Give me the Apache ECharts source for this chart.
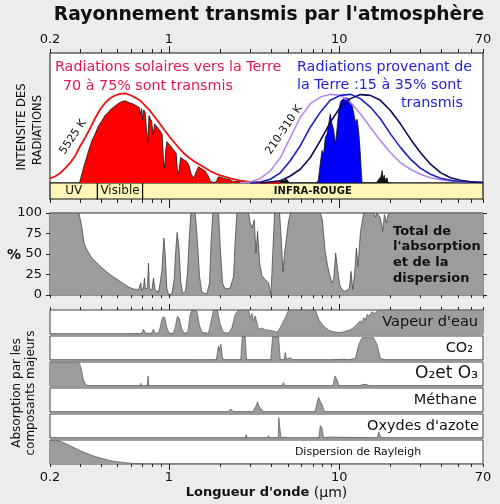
<!DOCTYPE html>
<html>
<head>
<meta charset="utf-8">
<script src="https://cdn.jsdelivr.net/npm/echarts@6/dist/echarts.min.js"></script>
<style>
html, body { margin: 0; padding: 0; background: #ececec; }
#chart { width: 500px; height: 504px; }
</style>
</head>
<body>
<div id="chart"></div>
<script>
// longueur d'onde (µm), valeur
var tickValues = [0.2,0.3,0.4,0.5,0.6,0.7,0.8,0.9,1,2,3,4,5,6,7,8,9,10,20,30,40,50,60,70];
var majorTicks = [1, 10];
var tickLabels = [0.2, 1, 10, 70];

var bandNames = ['UV', 'Visible', 'INFRA-ROUGE'];
var bandEdges = [0.2, 0.38, 0.7, 70];

/* spectre solaire 5525 K */
var solarCurve = [[0.200,3.6],[0.214,5.0],[0.229,7.5],[0.245,11.2],[0.262,15.2],[0.281,20.8],[0.300,28.1],[0.321,34.6],[0.344,41.9],[0.368,49.8],[0.394,56.5],[0.421,61.5],[0.451,65.2],[0.482,67.3],[0.516,68.5],[0.552,69.0],[0.591,67.7],[0.632,65.8],[0.677,63.5],[0.724,59.6],[0.775,55.4],[0.829,50.4],[0.887,45.4],[0.950,40.0],[1.016,35.0],[1.087,30.4],[1.164,25.8],[1.245,21.9],[1.332,18.8],[1.426,16.2],[1.525,13.8],[1.632,11.5],[1.747,9.2],[1.869,7.3],[2.000,5.8],[2.290,3.5],[2.620,1.9],[3.000,0.9],[3.44,0.4],[4.51,0]];
/* part transmise */
var solarFill = [[0.298,0],[0.300,0.4],[0.314,11.2],[0.321,15.4],[0.336,24.2],[0.352,32.3],[0.368,37.7],[0.385,43.8],[0.403,47.7],[0.421,51.9],[0.441,54.6],[0.461,57.3],[0.482,59.2],[0.504,61.2],[0.528,62.5],[0.552,63.2],[0.591,61.5],[0.615,60.8],[0.647,59.2],[0.668,58.1],[0.681,53.1],[0.691,57.3],[0.700,48.5],[0.710,56.2],[0.724,54.6],[0.736,43.1],[0.751,30.8],[0.763,51.9],[0.775,49.8],[0.791,47.7],[0.807,36.9],[0.824,45.4],[0.849,43.3],[0.887,40],[0.912,37.7],[0.928,17.7],[0.943,11.3],[0.958,25.4],[0.972,31.8],[1.016,28.8],[1.063,25.4],[1.102,23.1],[1.125,6.2],[1.148,10],[1.171,19.6],[1.191,19.0],[1.274,16.4],[1.314,13.1],[1.350,6.9],[1.397,3.8],[1.445,8.5],[1.491,12.5],[1.632,9.2],[1.701,5.4],[1.747,1.5],[1.819,0.4],[1.895,0.8],[1.954,4.8],[2.112,3.5],[2.290,2.3],[2.386,1.2],[2.451,1.9],[2.620,1.0],[3.000,0.4],[3.44,0]];

/* rayonnement terrestre 210 - 310 K */
var earth310 = [[2.62,0],[3.00,0.8],[3.44,3.5],[3.94,9.3],[4.51,19.4],[5.16,34.9],[5.91,50.4],[6.77,61.0],[7.75,66.1],[8.87,68.2],[10.16,67.4],[11.64,62.2],[13.32,53.3],[15.25,42.9],[17.47,32.6],[20.0,23.5],[22.9,15.7],[26.2,10.6],[30.0,6.7],[34.4,4.1],[39.4,2.6],[45.1,1.6],[51.6,0.8],[70,0.2]];
var earth260 = [[3.00,0],[3.44,0.8],[3.94,2.9],[4.51,7.8],[5.16,17.1],[5.91,28.7],[6.77,42.9],[7.75,54.5],[8.87,63.6],[10.16,67.4],[11.64,68.2],[13.32,64.9],[15.25,58.4],[17.47,49.4],[20.0,37.8],[22.9,27.4],[26.2,18.4],[30.0,11.4],[34.4,6.7],[39.4,3.6],[45.1,2.1],[51.6,1.0],[70,0.4]];
var earth210 = [[3.44,0],[4.51,1.6],[5.16,5.4],[5.91,10.6],[6.77,19.6],[7.75,32.6],[8.87,46.7],[10.16,58.4],[11.64,64.9],[13.32,68.0],[15.25,67.4],[17.47,63.6],[20.0,55.8],[22.9,45.5],[26.2,33.9],[30.0,23.5],[34.4,14.5],[39.4,8.0],[45.1,4.1],[51.6,2.1],[59.1,1.0],[70,0.4]];
var earthFill = [[7.34,0],[7.54,2],[7.75,15],[7.93,25],[8.10,22],[8.29,35],[8.50,38],[8.67,45],[8.87,53],[9.06,46],[9.28,41],[9.50,30],[9.69,40],[9.93,55],[10.16,62],[10.40,64],[10.63,65],[10.87,65.5],[11.13,66],[11.32,65],[11.64,62],[11.91,60],[12.17,54],[12.45,47],[12.74,49],[13.02,40],[13.14,33],[13.32,22],[13.50,8],[13.63,0]];
var earthSpikes = [[3.0,0],[4.4,0],[4.55,2.5],[4.7,1.5],[4.9,3],[5.1,0],[16.5,0],[16.9,2],[17.3,1],[17.6,5],[17.9,9.5],[18.1,3],[18.4,6],[18.7,2],[19.1,4],[19.4,0],[20,0]];

/* total de l'absorption et de la dispersion (%) */
var absorbTotal = [[0.2,100],[0.296,100],[0.307,83.7],[0.317,63.4],[0.329,55.3],[0.352,45.1],[0.394,35.0],[0.451,24.8],[0.516,16.7],[0.578,9.8],[0.618,7.3],[0.662,6.5],[0.674,5.7],[0.683,14.6],[0.692,5.7],[0.708,8.5],[0.718,20.7],[0.728,7.3],[0.748,8.5],[0.758,39.0],[0.768,7.3],[0.793,5.7],[0.811,20.7],[0.829,6.5],[0.868,3.3],[0.887,14.6],[0.908,28.9],[0.933,69.5],[0.950,51.2],[0.971,8.5],[0.994,0.4],[1.039,1.2],[1.073,18.7],[1.097,55.3],[1.117,76.4],[1.143,59.3],[1.174,14.6],[1.206,1.6],[1.251,4.5],[1.285,26.8],[1.314,67.5],[1.344,100],[1.426,100],[1.458,75.6],[1.512,22.8],[1.560,3.3],[1.670,1.2],[1.731,14.6],[1.771,67.5],[1.811,100],[1.955,100],[2.0,59.3],[2.064,14.6],[2.140,7.3],[2.290,8.5],[2.396,22.8],[2.451,67.5],[2.507,100],[2.936,100],[3.003,87.8],[3.085,81.7],[3.170,91.9],[3.243,51.2],[3.317,77.6],[3.408,39.0],[3.518,23.6],[3.680,18.7],[3.850,14.6],[3.973,0.4],[4.081,55.3],[4.174,100],[4.467,100],[4.569,67.5],[4.674,28.9],[4.781,51.2],[4.891,67.5],[5.024,87.8],[5.162,100],[7.750,100],[7.962,91.9],[8.256,55.3],[8.559,35.0],[8.794,24.8],[9.078,14.6],[9.283,18.7],[9.538,51.2],[9.798,30.9],[10.07,12.6],[10.39,6.5],[10.73,4.5],[11.12,5.7],[11.48,8.5],[11.74,28.9],[12.01,6.5],[12.34,26.8],[12.62,57.3],[12.91,35.0],[13.32,75.6],[13.93,100],[15.96,100],[16.32,95.1],[16.70,100],[17.47,93.9],[18.03,77.6],[18.44,98],[18.95,87.8],[19.38,98],[20.0,100],[70,100]];

/* absorption par composant (%) */
var vapeurEau = [[0.2,0],[0.578,0],[0.62,1],[0.69,2],[0.708,20],[0.73,3],[0.79,3],[0.810,20],[0.83,3],[0.87,5],[0.887,27],[0.915,68],[0.941,71],[0.972,27],[1.002,3],[1.06,3],[1.087,27],[1.122,75],[1.153,62],[1.191,20],[1.233,3],[1.291,8],[1.332,82],[1.363,99],[1.459,96],[1.505,41],[1.561,7],[1.707,3],[1.771,55],[1.827,100],[1.928,100],[2.0,41],[2.091,7],[2.238,3],[2.344,27],[2.451,82],[2.563,100],[2.934,100],[3.003,68],[3.074,85],[3.141,55],[3.214,75],[3.361,20],[3.519,25],[3.680,18],[3.766,16],[4.031,14],[4.313,7],[4.51,27],[4.823,68],[5.044,100],[7.243,100],[7.574,62],[7.929,41],[8.292,27],[8.671,16],[9.081,11],[9.716,7],[10.40,7],[11.13,14],[11.64,18],[11.9,12],[12.17,27],[12.45,20],[12.74,41],[13.0,33],[13.32,55],[13.6,45],[13.93,68],[14.25,58],[14.59,82],[15.0,75],[15.61,93],[16.2,86],[17.07,100],[30,100],[70,100]];
var co2 = [[0.2,0],[1.40,0],[1.426,4],[1.45,0],[1.55,0],[1.561,3],[1.58,0],[1.90,0],[1.913,18],[1.954,59],[1.981,40],[2.019,66],[2.063,11],[2.09,0],[2.64,0],[2.694,97],[2.806,97],[2.856,0],[3.96,0],[4.062,97],[4.406,97],[4.51,0],[4.75,0],[4.823,31],[4.91,3],[5.16,10],[5.3,0],[9.1,0],[9.28,7],[9.5,2],[10.87,4],[11.2,0],[12.45,7],[13.02,64],[13.63,93],[15.95,93],[16.71,64],[17.47,7],[18.69,0],[70,0]];
var o2o3 = [[0.2,100],[0.293,100],[0.300,89],[0.307,62],[0.314,27],[0.324,7],[0.336,0],[0.675,0],[0.683,11],[0.69,0],[0.745,0],[0.754,41],[0.762,0],[1.24,0],[1.257,7],[1.275,0],[4.6,0],[4.71,14],[4.82,0],[9.2,0],[9.3,8],[9.45,42],[9.6,45],[9.8,20],[9.95,0],[13.2,0],[13.63,6],[14.4,7],[15.2,0],[70,0]];
var methane = [[0.2,0],[2.2,0],[2.238,6],[2.312,12],[2.395,0],[3.10,0],[3.141,5],[3.244,24],[3.316,42],[3.393,22],[3.596,0],[7.2,0],[7.243,5],[7.41,37],[7.574,61],[7.75,44],[7.929,31],[8.21,0],[70,0]];
var oxydesAzote = [[0.2,0],[2.80,0],[2.845,14],[2.89,0],[3.80,0],[3.85,10],[3.90,0],[4.38,0],[4.42,85],[4.50,83],[4.55,0],[4.823,4],[5.0,0],[7.6,0],[7.75,52],[7.929,41],[8.10,0],[8.671,4],[8.9,0],[16.8,0],[17.07,25],[17.4,10],[17.7,0],[70,0]];
var rayleigh = [[0.2,97],[0.214,100],[0.234,93],[0.268,73],[0.307,53],[0.352,36],[0.403,23],[0.461,13],[0.528,7],[0.605,3],[0.724,0.5],[1.0,0],[70,0]];

var panelData = [vapeurEau, co2, o2o3, methane, oxydesAzote, rayleigh];
var panelNames = ["Vapeur d'eau", 'CO\u2082', 'O\u2082et O\u2083', 'M\u00e9thane', "Oxydes d'azote", 'Dispersion de Rayleigh'];

var FONT = 'DejaVu Sans';
var chart = echarts.init(document.getElementById('chart'));

function fmt(v) { return String(+(+v).toPrecision(3)); }

function xAxisFor(grid, pos, ticks, len, labels) {
	var ax = {
		type: 'log', logBase: 10, min: 0.2, max: 70,
		gridIndex: grid, position: pos,
		axisLine: { show: false, onZero: false },
		splitLine: { show: false },
		axisTick: { show: false },
		axisLabel: { show: false }
	};
	if (ticks) ax.axisTick = { show: true, customValues: ticks, length: len, lineStyle: { color: '#222', width: 1 } };
	if (labels) ax.axisLabel = { show: true, customValues: labels, formatter: fmt, color: '#111', fontSize: 13, fontFamily: FONT, margin: 7 };
	return ax;
}
function hiddenY(grid, max) {
	return { type: 'value', gridIndex: grid, min: 0, max: max, show: false };
}

var grids = [
	{ left: 50, top: 53, width: 433, height: 130, show: true, backgroundColor: '#fff', borderColor: '#111', borderWidth: 1 },
	{ left: 50, top: 183, width: 433, height: 16 },
	{ left: 50, top: 213, width: 433, height: 82, show: true, backgroundColor: '#fff', borderColor: '#333', borderWidth: 1 }
];
var panelTops = [310, 336, 362, 388, 414, 440];
panelTops.forEach(function(t) {
	grids.push({ left: 50, top: t, width: 433, height: 24, show: true, backgroundColor: '#fff', borderColor: '#444', borderWidth: 1 });
});

var xAxes = [
	xAxisFor(0, 'top', tickValues, 4, tickLabels),   // 0 spectre
	xAxisFor(0, 'top', majorTicks, 7),               // 1
	xAxisFor(1, 'bottom', tickValues, 4),            // 2 bandes
	xAxisFor(1, 'bottom', majorTicks, 9),            // 3
	xAxisFor(2, 'bottom', tickValues, 3)             // 4 total
];
panelTops.forEach(function(t, i) {
	var g = i + 3;
	if (i === 0) xAxes.push(xAxisFor(g, 'top', tickValues, 3));
	else if (i === panelTops.length - 1) xAxes.push(xAxisFor(g, 'bottom', tickValues, 3, tickLabels));
	else xAxes.push(xAxisFor(g, 'bottom'));
});
xAxes.push(xAxisFor(3, 'top', majorTicks, 6));
xAxes.push(xAxisFor(8, 'bottom', majorTicks, 6));
var bottomAxis = xAxes[10];
bottomAxis.name = "{b|Longueur d'onde} {n|(\u03bcm)}";
bottomAxis.nameLocation = 'middle';
bottomAxis.nameGap = 22;
bottomAxis.nameTextStyle = {
	color: '#111', fontFamily: FONT, fontSize: 14,
	rich: { b: { fontWeight: 'bold', fontSize: 13, fontFamily: FONT, color: '#111' }, n: { fontSize: 14, fontFamily: FONT, color: '#111' } }
};

var yAxes = [
	hiddenY(0, 100),
	hiddenY(1, 1),
	{ type: 'value', gridIndex: 2, min: 0, max: 100, interval: 25, position: 'left',
		axisLine: { show: false }, splitLine: { show: false },
		axisTick: { show: true, length: 4, lineStyle: { color: '#222' } },
		axisLabel: { color: '#111', fontSize: 13, fontFamily: FONT, margin: 8 } },
	{ type: 'value', gridIndex: 2, min: 0, max: 100, interval: 25, position: 'right',
		axisLine: { show: false }, splitLine: { show: false },
		axisTick: { show: true, length: 4, lineStyle: { color: '#222' } },
		axisLabel: { show: false } }
];
panelTops.forEach(function(t, i) { yAxes.push(hiddenY(i + 3, 100)); });

function lineSeries(data, xi, yi, color, width, fill, z) {
	var s = {
		type: 'line', data: data, xAxisIndex: xi, yAxisIndex: yi,
		symbol: 'none', smooth: false, z: z || 3,
		lineStyle: { color: color, width: width }
	};
	if (fill) s.areaStyle = { color: fill, opacity: 1 };
	return s;
}

var series = [
	lineSeries(solarFill, 0, 0, '#111', 0.8, '#ff0000', 2),
	lineSeries(earthFill, 0, 0, '#111', 0.8, '#0000ff', 2),
	lineSeries(earthSpikes, 0, 0, '#111', 0.8, '#111', 2),
	lineSeries(solarCurve, 0, 0, '#ee1111', 1.8),
	lineSeries(earth310, 0, 0, '#b58be6', 1.6),
	lineSeries(earth260, 0, 0, '#1e1ec4', 1.6),
	lineSeries(earth210, 0, 0, '#0b0b55', 1.6),
	{
		type: 'line', xAxisIndex: 2, yAxisIndex: 1, data: [[0.2, 0], [70, 0]],
		symbol: 'none', lineStyle: { width: 0 },
		markArea: {
			silent: true,
			data: bandNames.map(function(b, i) {
				return [{
					name: b, xAxis: bandEdges[i], yAxis: 0,
					itemStyle: { color: '#fdf6b6', borderColor: '#111', borderWidth: 1.2 },
					label: i === 2
						? { show: true, position: 'inside', color: '#111', fontSize: 10, fontWeight: 'bold', fontFamily: FONT }
						: { show: true, position: 'inside', color: '#111', fontSize: 12, fontFamily: FONT }
				}, { xAxis: bandEdges[i + 1], yAxis: 1 }];
			})
		}
	},
	lineSeries(absorbTotal, 4, 2, '#3a3a3a', 0.7, '#9c9c9c', 2)
];
panelData.forEach(function(d, i) {
	series.push(lineSeries(d, 5 + i, 4 + i, '#444', 0.6, '#9c9c9c', 2));
});

function txt(x, y, text, o) {
	o = o || {};
	return {
		type: 'text', x: x, y: y, rotation: o.rot || 0, z: 100, silent: true,
		style: {
			text: text, fill: o.color || '#111', fontFamily: FONT,
			fontSize: o.size || 13, fontWeight: o.bold ? 'bold' : 'normal',
			align: o.align || 'left', verticalAlign: 'middle', lineHeight: o.lh
		}
	};
}

var graphics = [
	txt(269, 15, "Rayonnement transmis par l'atmosph\u00e8re", { size: 18.7, bold: true, align: 'center' }),
	txt(55, 67, 'Radiations solaires vers la Terre', { size: 14.3, color: '#e3194d' }),
	txt(63, 86, '70 \u00e0 75% sont transmis', { size: 14.3, color: '#e3194d' }),
	txt(297, 67, 'Radiations provenant de', { size: 14.3, color: '#2424d2' }),
	txt(297, 85, 'la Terre :15 \u00e0 35% sont', { size: 14.3, color: '#2424d2' }),
	txt(463, 103, 'transmis', { size: 14.3, color: '#2424d2', align: 'right' }),
	txt(73, 137, '5525 K', { size: 11, align: 'center', rot: 56 * Math.PI / 180 }),
	txt(284, 130, '210-310 K', { size: 11, align: 'center', rot: 56 * Math.PI / 180 }),
	txt(22, 127, 'INTENSITE DES', { size: 11.5, align: 'center', rot: Math.PI / 2 }),
	txt(38, 130, 'RADIATIONS', { size: 11.5, align: 'center', rot: Math.PI / 2 }),
	txt(14, 255, '%', { size: 14, bold: true, align: 'center' }),
	txt(393, 255, "Total de\nl'absorption\net de la\ndispersion", { size: 13, bold: true, lh: 15.8 }),
	txt(17, 393, 'Absorption par les', { size: 12, align: 'center', rot: Math.PI / 2 }),
	txt(31, 393, 'composants majeurs', { size: 12, align: 'center', rot: Math.PI / 2 })
];
var labelX = [478, 473, 478, 477, 479, 358];
var labelSize = [14.5, 14.5, 17, 14.5, 14.5, 11];
panelNames.forEach(function(n, i) {
	graphics.push(txt(labelX[i], panelTops[i] + 12, n, { size: labelSize[i], align: i === 5 ? 'center' : 'right' }));
});

chart.setOption({
	backgroundColor: '#ececec',
	animation: false,
	grid: grids,
	xAxis: xAxes,
	yAxis: yAxes,
	series: series,
	graphic: graphics
});
</script>
</body>
</html>
